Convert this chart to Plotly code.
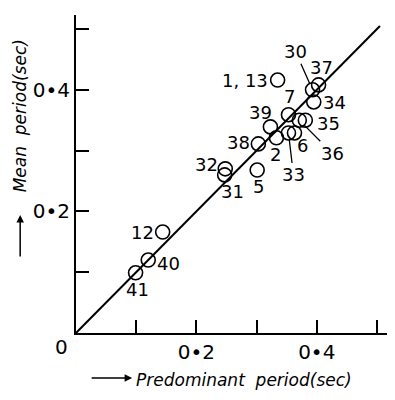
import plotly.graph_objects as go

# ---- data ----
labels = ["1, 13", "30", "37", "34", "7", "39", "35", "36", "33", "6", "2", "38",
          "32", "31", "5", "12", "40", "41"]
predominant = [0.335, 0.393, 0.403, 0.395, 0.353, 0.323, 0.381, 0.371, 0.353, 0.363,
               0.333, 0.303, 0.248, 0.247, 0.301, 0.144, 0.120, 0.099]
mean_period = [0.416, 0.400, 0.408, 0.380, 0.359, 0.339, 0.350, 0.350, 0.329, 0.329,
               0.321, 0.311, 0.270, 0.260, 0.268, 0.166, 0.120, 0.099]
line_x = [0.0, 0.505]
line_y = [0.0, 0.505]
tick_vals = [0.1, 0.2, 0.3, 0.4, 0.5]
x_tick_text = ["", "0•2", "", "0•4", ""]
y_tick_text = ["", "0•2", "", "0•4", ""]

# ---- label placement (pixel offsets from the circle; leader = drawn line) ----
label_style = {
    "1, 13": dict(dx=-8, dy=0, anchor="right"),
    "30": dict(dx=-17, dy=-38, leader=True),
    "37": dict(dx=3, dy=-17),
    "34": dict(dx=21, dy=1),
    "7": dict(dx=1, dy=-18),
    "39": dict(dx=-10, dy=-14),
    "35": dict(dx=23, dy=3),
    "36": dict(dx=33, dy=33, leader=True),
    "33": dict(dx=5, dy=42, leader=True),
    "6": dict(dx=8, dy=13),
    "2": dict(dx=-1, dy=17),
    "38": dict(dx=-20, dy=-1),
    "32": dict(dx=-19, dy=-4),
    "31": dict(dx=8, dy=17),
    "5": dict(dx=1, dy=16),
    "12": dict(dx=-20, dy=0),
    "40": dict(dx=20, dy=3),
    "41": dict(dx=2, dy=17),
}

FONT = "DejaVu Sans"
LFS = 18
fig = go.Figure()
fig.add_trace(go.Scatter(x=line_x, y=line_y, mode="lines",
                         line=dict(color="black", width=2), hoverinfo="skip"))
fig.add_trace(go.Scatter(x=predominant, y=mean_period, mode="markers",
                         marker=dict(symbol="circle-open", size=14, color="black",
                                     line=dict(width=1.6, color="black"))))

annotations = []
for lab, xv, yv in zip(labels, predominant, mean_period):
    st = label_style[lab]
    if st.get("leader"):
        annotations.append(dict(x=xv, y=yv, xref="x", yref="y", text=lab,
                                showarrow=True, arrowhead=0, arrowwidth=1.3,
                                arrowcolor="black", ax=st["dx"], ay=st["dy"],
                                standoff=7, font=dict(family=FONT, size=LFS, color="black")))
    else:
        annotations.append(dict(x=xv, y=yv, xref="x", yref="y", text=lab,
                                showarrow=False, xshift=st["dx"], yshift=-st["dy"],
                                xanchor=st.get("anchor", "center"), yanchor="middle",
                                font=dict(family=FONT, size=LFS, color="black")))

# origin "0"
annotations.append(dict(x=-0.047, y=-0.044, xref="paper", yref="paper", text="0",
                        xanchor="center", yanchor="middle",
                        showarrow=False, font=dict(family=FONT, size=20, color="black")))
# x title with arrow
annotations.append(dict(x=0.176, y=-0.1415, xref="paper", yref="paper", text="",
                        showarrow=True, arrowhead=2, arrowsize=1, arrowwidth=1.5,
                        arrowcolor="black", ax=-42, ay=0))
annotations.append(dict(x=0.182, y=-0.148, xref="paper", yref="paper",
                        xanchor="left", yanchor="middle",
                        text="<i>Predominant  period(sec)</i>", showarrow=False,
                        font=dict(family=FONT, size=17, color="black")))
# y title with arrow
annotations.append(dict(x=-0.175, y=0.371, xref="paper", yref="paper", text="",
                        showarrow=True, arrowhead=2, arrowsize=1, arrowwidth=1.5,
                        arrowcolor="black", ax=0, ay=43))
annotations.append(dict(x=-0.175, y=0.682, xref="paper", yref="paper",
                        xanchor="center", yanchor="middle",
                        text="<i>Mean  period(sec)</i>", showarrow=False, textangle=-90,
                        font=dict(family=FONT, size=17, color="black")))

fig.update_layout(
    width=395, height=400,
    margin=dict(l=68, r=8, t=7, b=75, autoexpand=False),
    paper_bgcolor="white", plot_bgcolor="white",
    showlegend=False,
    annotations=annotations,
    xaxis=dict(range=[0, 0.53], showgrid=False, zeroline=False, showline=True,
               automargin=False,
               linecolor="black", linewidth=2, ticks="inside", ticklen=13,
               tickwidth=1.5, tickcolor="black", tickvals=tick_vals,
               ticktext=x_tick_text, tickfont=dict(family=FONT, size=20, color="black")),
    yaxis=dict(range=[0, 0.523], showgrid=False, zeroline=False, showline=True,
               automargin=False,
               linecolor="black", linewidth=2, ticks="inside", ticklen=13,
               tickwidth=1.5, tickcolor="black", tickvals=tick_vals,
               ticktext=y_tick_text, tickfont=dict(family=FONT, size=20, color="black")),
)

fig.write_html("out.html")
